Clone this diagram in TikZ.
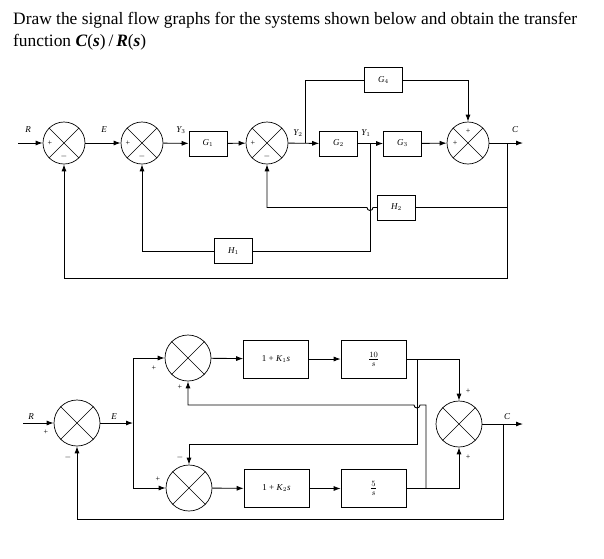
\documentclass[tikz,border=0pt]{standalone}
\usepackage{fontspec}
\setmainfont{Liberation Serif}
\usetikzlibrary{arrows.meta}
\begin{document}
\begin{tikzpicture}[x=1pt,y=-1pt,
  sumj/.style={draw,circle,minimum size=42pt,inner sep=0pt,line width=0.7pt},
  blk/.style={draw,rectangle,line width=0.6pt},
  sig/.style={line width=0.9pt},
  arr/.style={sig,-{Latex[length=7pt,width=5pt]}},
  lab/.style={font=\fontsize{9}{10}\selectfont\itshape,inner sep=0pt},
  sgn/.style={font=\fontsize{8}{9}\selectfont,inner sep=0pt}]
\useasboundingbox (0,0) rectangle (604,558);
\node[anchor=west,inner sep=0pt,font=\fontsize{17.4}{19}\selectfont] (t1) at (13,20) {Draw the signal flow graphs for the systems shown below and obtain the transfer};
\node[anchor=west,inner sep=0pt,font=\fontsize{17.4}{19}\selectfont] (t2) at (13,42) {function \textbf{\textit{C}}(\textbf{\textit{s}})\,/\,\textbf{\textit{R}}(\textbf{\textit{s}})};
% ---- top diagram
\foreach \n/\x in {s1/64,s2/142,s3/267,s4/468}{
  \node[sumj] (\n) at (\x,143) {};
  \draw[line width=0.6pt] (\n.north west) -- (\n.south east) (\n.north east) -- (\n.south west);}
\node[blk,minimum width=38pt,minimum height=25pt] (g1) at (208,143.5) {\itshape\fontsize{9}{10}\selectfont G$_1$};
\node[blk,minimum width=38pt,minimum height=25pt] (g2) at (338.5,143.5) {\itshape\fontsize{9}{10}\selectfont G$_2$};
\node[blk,minimum width=38pt,minimum height=25pt] (g3) at (402.5,143.5) {\itshape\fontsize{9}{10}\selectfont G$_3$};
\node[blk,minimum width=38pt,minimum height=25pt] (g4) at (383.5,80) {\itshape\fontsize{9}{10}\selectfont G$_4$};
\node[blk,minimum width=38pt,minimum height=25pt] (h2) at (396.5,207.5) {\itshape\fontsize{9}{10}\selectfont H$_2$};
\node[blk,minimum width=38pt,minimum height=25pt] (h1) at (233.5,251) {\itshape\fontsize{9}{10}\selectfont H$_1$};
\coordinate (rin) at (18,143);
\coordinate (cout) at (523,143);
\coordinate (y2) at (305,143);
\coordinate (y1) at (370,143);
\coordinate (tc) at (507,143);
\draw[arr] (rin) -- (s1);
\draw[arr] (s1) -- (s2);
\draw[arr] (s2) -- (g1);
\draw[arr] (g1) -- (s3);
\draw[arr] (s3) -- (g2);
\draw[arr] (g2) -- (g3);
\draw[arr] (g3) -- (s4);
\draw[arr] (s4) -- (cout);
\draw[arr] (y2) |- (g4.west) (g4.east) -| (s4.north);
\draw[sig] (tc) |- (h2.east);
\draw[arr] (h2.west) -- (373,207.5) arc (0:180:3) -- (267,207.5) -- (s3.south);
\draw[sig] (y1) |- (h1.east);
\draw[arr] (h1.west) -| (s2.south);
\draw[arr] (tc) |- (64,278) -- (s1.south);
\node[lab] at (28,130) {R};
\node[lab] at (104,130) {E};
\node[lab] at (181,130) {Y$_3$};
\node[lab] at (298,133) {Y$_2$};
\node[lab] at (366,133) {Y$_1$};
\node[lab] at (515,130) {C};
\foreach \n in {s1,s2,s3}{
  \node[sgn] at ([xshift=-14pt]\n.center) {+};
  \node[sgn] at ([yshift=-13pt]\n.center) {$-$};}
\node[sgn] at ([yshift=12pt]s4.center) {+};
\node[sgn] at ([xshift=-13pt]s4.center) {+};
% ---- bottom diagram
\foreach \n/\x/\y in {s5/77/423,s6/188/358,s7/189/488,s8/459/424}{
  \node[sumj,minimum size=46pt] (\n) at (\x,\y) {};
  \draw[line width=0.6pt] (\n.north west) -- (\n.south east) (\n.north east) -- (\n.south west);}
\node[blk,minimum width=65pt,minimum height=38pt] (k1) at (276,359) {\fontsize{9}{10}\selectfont 1 + \textit{K}$_1$\textit{s}};
\node[blk,minimum width=65pt,minimum height=38pt] (k2) at (276.5,488.5) {\fontsize{9}{10}\selectfont 1 + \textit{K}$_2$\textit{s}};
\node[blk,minimum width=65pt,minimum height=38pt] (ten) at (373.5,359) {\fontsize{12}{14}\selectfont$\frac{10}{s}$};
\node[blk,minimum width=65pt,minimum height=38pt] (five) at (373.5,488.5) {\fontsize{12}{14}\selectfont$\frac{5}{s}$};
\coordinate (rin2) at (23,423);
\coordinate (cout2) at (523,424);
\coordinate (br) at (133,423);
\coordinate (tc2) at (503,424);
\draw[arr] (rin2) -- (s5);
\draw[arr] (s5) -- (br);
\draw[arr] (br) |- (s6.west);
\draw[arr] (br) |- (s7.west);
\draw[arr] (s6) -- (k1);
\draw[arr] (s7) -- (k2);
\draw[arr] (k1) -- (ten);
\draw[arr] (k2) -- (five);
\draw[arr] (ten.east) -| (s8.north);
\draw[arr] (five.east) -| (s8.south);
\draw[arr] (s8) -- (cout2);
\draw[arr] (417,359) -- (417,444) -- (189,444) -- (s7.north);
\draw[arr] (426,488.5) -- (426,405) -- (420,405) arc (0:180:3) -- (188,405) -- (s6.south);
\draw[arr] (tc2) |- (77,519) -- (s5.south);
\node[lab] at (31,417) {R};
\node[lab] at (114,417) {E};
\node[lab] at (507,417) {C};
\node[sgn] at (46,432) {+};
\node[sgn] at (68,457) {$-$};
\node[sgn] at (154,368) {+};
\node[sgn] at (180,387) {+};
\node[sgn] at (158,479) {+};
\node[sgn] at (180,457) {$-$};
\node[sgn] at (468,391) {+};
\node[sgn] at (468,457) {+};
\end{tikzpicture}
\end{document}
